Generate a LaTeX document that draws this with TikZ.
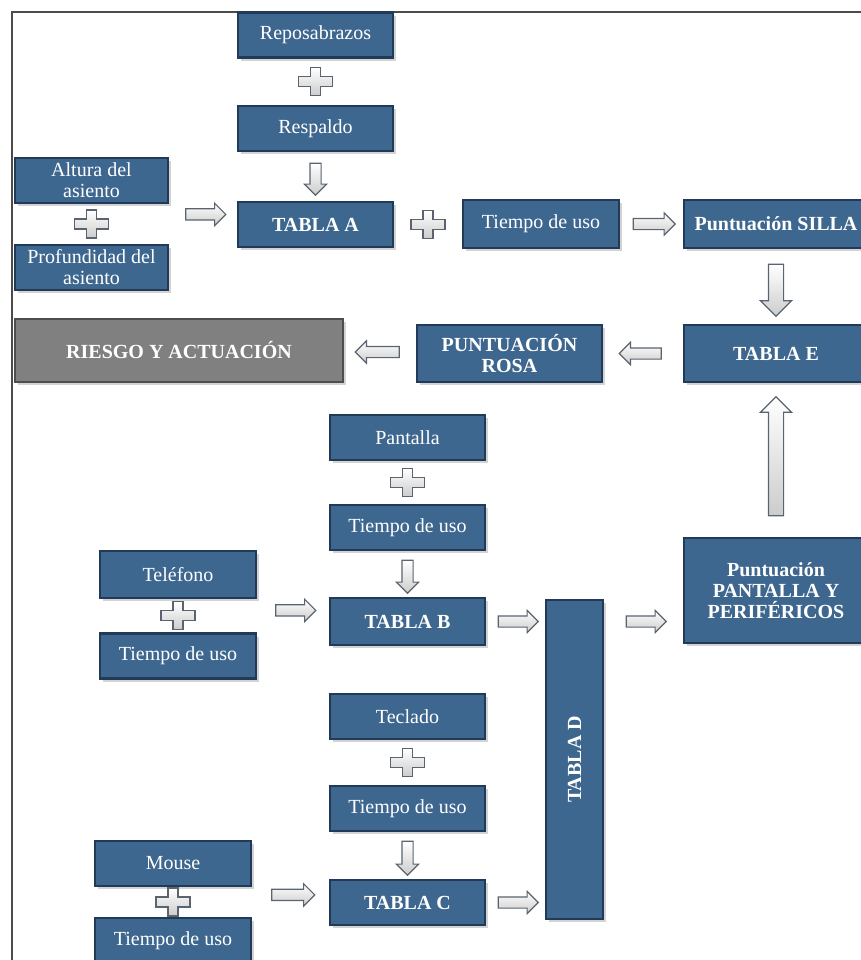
\documentclass[tikz,border=0pt]{standalone}
\usepackage{fontspec}
\setmainfont{Liberation Serif}
\usetikzlibrary{shapes.arrows,shadows,calc}
\definecolor{boxblue}{RGB}{62,103,143}
\definecolor{boxedge}{RGB}{33,58,88}
\definecolor{riskgray}{RGB}{128,128,128}
\definecolor{riskedge}{RGB}{78,78,78}
\definecolor{arrowedge}{RGB}{90,100,112}

\begin{document}
\begin{tikzpicture}[x=0.5pt, y=-0.5pt,
  blk/.style={rectangle, draw=boxedge, line width=1.3pt, fill=boxblue, text=white,
              align=center, inner sep=1pt, minimum width=77.5pt, minimum height=22.5pt,
              font=\fontsize{10}{10.5}\selectfont,
              drop shadow={shadow xshift=1.5pt, shadow yshift=-1.5pt, opacity=0.35}},
  blkb/.style={blk, font=\fontsize{10}{10.5}\selectfont\bfseries},
  riskbox/.style={blkb, draw=riskedge, fill=riskgray},
  barrow/.style={single arrow, draw=arrowedge, line width=0.6pt, top color=white,
                 bottom color=gray!40, single arrow head extend=2.8pt,
                 minimum height=20pt, inner xsep=0pt, inner ysep=2.5pt},
  bigarrow/.style={barrow, inner ysep=3.5pt, single arrow head extend=4pt},
  plussign/.pic={\draw[draw=arrowedge, line width=0.6pt, top color=white, bottom color=gray!40]
    (-5,-14) -- (5,-14) -- (5,-5) -- (17,-5) -- (17,5) -- (5,5) -- (5,14) -- (-5,14)
    -- (-5,5) -- (-17,5) -- (-17,-5) -- (-5,-5) -- cycle;}
]
\useasboundingbox (0,0) rectangle (861,960);
\clip (0,0) rectangle (861,960);

\draw[line width=1pt, draw=black!70] (12,1000) -- (12,12) -- (900,12);

\node[blk] (repo) at (315.5,35) {Reposabrazos};
\node[blk] (resp) at (315.5,128.5) {Respaldo};
\node[blkb] (tablaA) at (315.5,224.5) {TABLA A};
\node[blk, minimum width=76.5pt] (altura) at (91.5,180.5) {Altura del\\asiento};
\node[blk, minimum width=76.5pt] (prof) at (91.5,267.5) {Profundidad del\\asiento};
\node[blk, minimum width=78pt, minimum height=24pt] (usoA) at (541,224) {Tiempo de uso};
\node[blkb, minimum width=92pt, minimum height=24pt] (silla) at (776,224) {Puntuación SILLA};
\node[blkb, minimum width=92pt, minimum height=28.5pt] (tablaE) at (776,353.5) {TABLA E};
\node[blkb, minimum width=92.5pt, minimum height=28.5pt] (rosa) at (509.5,353.5) {PUNTUACIÓN\\ROSA};
\node[riskbox, minimum width=164pt, minimum height=31.5pt] (riesgo) at (179,350.5) {RIESGO Y ACTUACIÓN};
\node[blkb, minimum width=92pt, minimum height=52.5pt] (pant) at (776,590.5)
  {Puntuación\\PANTALLA Y\\PERIFÉRICOS};

\node[blk] (pantalla) at (407.5,437.5) {Pantalla};
\node[blk] (usoB) at (407.5,527.5) {Tiempo de uso};
\node[blkb, minimum height=23.5pt] (tablaB) at (407.5,621.5) {TABLA B};
\node[blk, minimum width=78pt, minimum height=23.5pt] (tel) at (178,574.5) {Teléfono};
\node[blk, minimum width=78pt] (usoT) at (178,656) {Tiempo de uso};
\node[blk] (teclado) at (407.5,716.5) {Teclado};
\node[blk] (usoC) at (407.5,808.5) {Tiempo de uso};
\node[blkb] (tablaC) at (407.5,902.5) {TABLA C};
\node[blk, minimum width=78pt] (mouse) at (173,863.5) {Mouse};
\node[blk, minimum width=78pt] (usoM) at (173,940.5) {Tiempo de uso};
\node[blkb, minimum width=28.5pt, minimum height=159.5pt] (tablaD) at (574.5,759.5)
  {\rotatebox{90}{TABLA D}};

\foreach \a/\b in {repo/resp, altura/prof, pantalla/usoB, tel/usoT, teclado/usoC, mouse/usoM}
  { \pic at ($(\a.south)!.5!(\b.north)$) {plussign}; }
\pic at ($(tablaA.east)!.5!(usoA.west)$) {plussign};

\node[barrow, rotate=270, minimum height=16pt] (arA) at ($(resp.south)!.5!(tablaA.north)$) {};
\node[barrow] (arAlt) at ($(altura.south east)!.5!(tablaA.west)$) {};
\node[barrow, minimum height=21pt] (arUso) at ($(usoA.east)!.5!(silla.west)$) {};
\node[bigarrow, rotate=270, minimum height=26pt] (arSilla) at ($(silla.south)!.5!(tablaE.north)$) {};
\node[barrow, rotate=180, minimum height=21pt] (arE) at ($(tablaE.west)!.5!(rosa.east)$) {};
\node[barrow, rotate=180, minimum height=22pt] (arRosa) at ($(rosa.west)!.5!(riesgo.east)$) {};
\node[bigarrow, rotate=90, minimum height=59.5pt] (arPant) at ($(pant.north)!.5!(tablaE.south)$) {};

\node[barrow, rotate=270, minimum height=16.5pt] (arB) at ($(usoB.south)!.5!(tablaB.north)$) {};
\node[barrow] (arTel) at ($(tel.south east)!.5!(tablaB.west)$) {};
\node[barrow] (arBD) at ($(tablaB.east)!.5!(tablaB.east -| tablaD.west)$) {};
\node[barrow] (arDP) at ($(tablaD.east |- tablaB)!.5!(pant.west |- tablaB)$) {};
\node[barrow, rotate=270, minimum height=17pt] (arC) at ($(usoC.south)!.5!(tablaC.north)$) {};
\node[barrow, minimum height=21.5pt] (arMouse) at ($(mouse.south east)!.5!(tablaC.west)$) {};
\node[barrow] (arCD) at ($(tablaC.east)!.5!(tablaC.east -| tablaD.west)$) {};

\end{tikzpicture}
\end{document}
